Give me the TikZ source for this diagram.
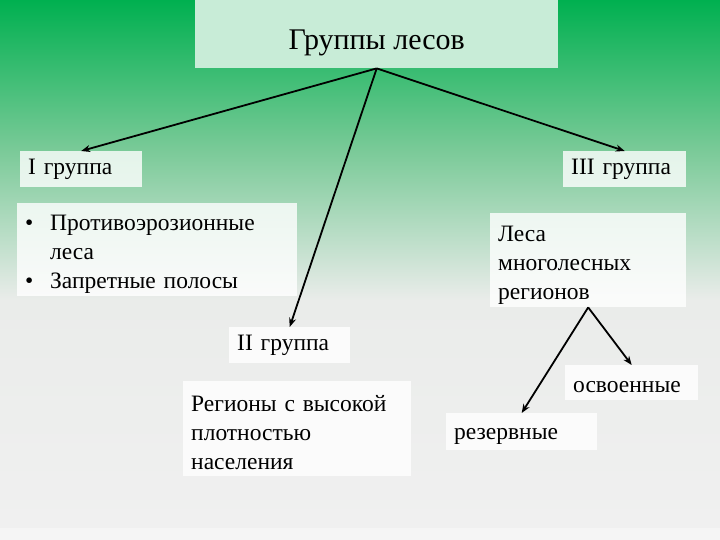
\documentclass[tikz,border=0pt]{standalone}
\usepackage{fontspec}
\setmainfont{Liberation Serif}
\usetikzlibrary{arrows.meta}

\definecolor{leafgreen}{RGB}{0,176,80}
\definecolor{mintgreen}{RGB}{122,202,152}
\definecolor{palegray}{RGB}{234,236,234}
\definecolor{backgray}{RGB}{240,240,240}
\definecolor{titlefill}{RGB}{200,236,215}

\begin{document}
\begin{tikzpicture}[x=1pt,y=-1pt]
\tikzstyle{GroupBox}=[draw = none, fill = white, fill opacity = 0.8,
                      text opacity = 1, anchor = north west,
                      inner xsep = 8pt, inner ysep = 0pt, align = left,
                      font = \fontsize{23.5}{29}\selectfont]
\tikzstyle{GroupArrow}=[line width = 1.8pt,
                        -{Stealth[length = 9pt, width = 7pt]}]
% background
\shade[top color = leafgreen, bottom color = mintgreen] (0,0) rectangle (720,150);
\shade[top color = mintgreen, bottom color = palegray] (0,150) rectangle (720,300);
\shade[top color = palegray, bottom color = backgray] (0,300) rectangle (720,528);
\fill[backgray!70!white] (0,528) rectangle (720,540);
\useasboundingbox (0,0) rectangle (720,540);
% boxes
\node[GroupBox, fill = titlefill, fill opacity = 1, align = center,
      minimum width = 363pt, minimum height = 68pt,
      text height = 30pt, text depth = 0pt,
      font = \fontsize{30}{36}\selectfont] (title) at (195,0) {Группы лесов};
\node[GroupBox, text width = 106pt, minimum height = 36pt] (grp1) at (20,151) {I группа};
\node[GroupBox, text width = 264pt, minimum height = 93pt] (list1) at (17,203)
  {\rule{0pt}{25pt}\makebox[25pt][l]{•}Противоэрозионные\\\hspace*{25pt}леса\\\makebox[25pt][l]{•}Запретные полосы};
\node[GroupBox, text width = 105pt, minimum height = 36pt] (grp2) at (229,327) {II группа};
\node[GroupBox, text width = 212pt, minimum height = 95pt] (list2) at (183,381)
  {\rule{0pt}{23pt}Регионы с высокой\\плотностью\\населения};
\node[GroupBox, text width = 107pt, minimum height = 36pt] (grp3) at (563,151) {III группа};
\node[GroupBox, text width = 180pt, minimum height = 94pt] (list3) at (490,213)
  {\rule{0pt}{26pt}Леса\\многолесных\\регионов};
\node[GroupBox, text width = 117pt, minimum height = 35pt,
      text height = 19pt] (mastered) at (565,365) {освоенные};
\node[GroupBox, text width = 135pt, minimum height = 37pt,
      text height = 21pt] (reserve) at (446,413) {резервные};
% arrows
\draw[GroupArrow] (title.south) -- (grp1.north);
\draw[GroupArrow] (title.south) -- (grp2.north);
\draw[GroupArrow] (title.south) -- (grp3.north);
\draw[GroupArrow] (list3.south) -- (reserve.north);
\draw[GroupArrow] (list3.south) -- (mastered.north);
\end{tikzpicture}
\end{document}
